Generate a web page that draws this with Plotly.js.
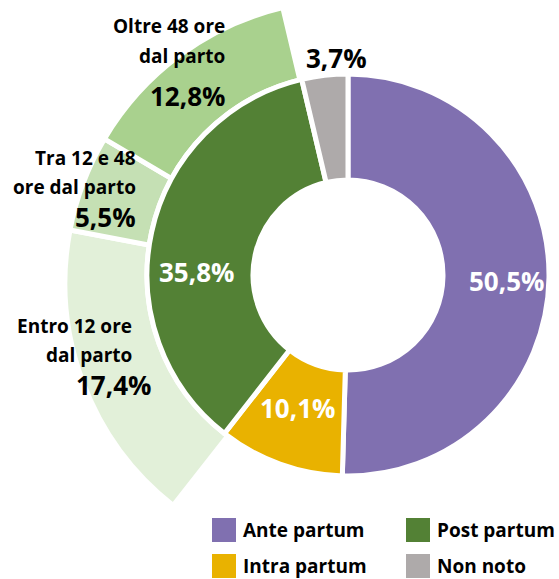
<!DOCTYPE html>
<html>
<head>
<meta charset="utf-8">
<script src="https://cdn.plot.ly/plotly-3.0.1.min.js"></script>
<style>
  html, body { margin: 0; padding: 0; background: #ffffff; overflow: hidden; width: 559px; height: 579px; }
  #chart { position: absolute; left: 0; top: -30px; width: 700px; height: 640px; }
</style>
</head>
<body>
<div id="chart"></div>
<script>
// ---- data ----
var innerCategories = ["Ante partum", "Intra partum", "Post partum", "Non noto"];
var innerValues = [50.5, 10.1, 35.8, 3.7];
var innerColors = ["#8070B0", "#E9B200", "#538135", "#AEAAAA"];

var postCategories = ["Entro 12 ore<br>dal parto", "Tra 12 e 48<br>ore dal parto", "Oltre 48 ore<br>dal parto"];
var postValues = [17.4, 5.5, 12.8];
var postColors = ["#E2F0D9", "#C5E0B4", "#A9D18E"];

var legendOrder = ["Ante partum", "Post partum", "Intra partum", "Non noto"];

// ---- geometry (layout) ----
var W = 700, H = 640, OFFY = 30;
var CX = 348, CY = 275;          // inner ring centre (window pixels)
var OCX = 348, OCY = 283;        // outer ring centre
var R_IN = 201, R_OUT = 283, R_HOLE = 95, GAP = 2.5;
function px(X) { return X / W; }
function py(Y) { return (H - (Y + OFFY)) / H; }
function dom(cx, cy, r) {
  return { x: [px(cx - r), px(cx + r)], y: [py(cy + r), py(cy - r)] };
}
var FONT = "'Open Sans', 'Noto Sans', sans-serif";
function fmt(v) { return v.toFixed(1).replace(".", ",") + "%"; }

// outer ring: only the post-partum sub-categories are visible
var outerLabels = [innerCategories[0], innerCategories[1]].concat(postCategories).concat([innerCategories[3]]);
var outerValues = [innerValues[0], innerValues[1]].concat(postValues).concat([innerValues[3]]);
var clear = "rgba(0,0,0,0)";
var outerColors = [clear, clear].concat(postColors).concat([clear]);
var outerLineColors = [clear, clear, "#ffffff", "#ffffff", "#ffffff", clear];

var outer = {
  type: "pie",
  labels: outerLabels,
  values: outerValues,
  sort: false,
  direction: "clockwise",
  rotation: 0,
  hole: 170 / R_OUT,
  domain: dom(OCX, OCY, R_OUT),
  marker: { colors: outerColors, line: { color: outerLineColors, width: 5 } },
  textinfo: "none",
  showlegend: false,
  hoverinfo: "none"
};

// white halo separating the two rings
var halo = {
  type: "pie",
  labels: innerCategories,
  values: innerValues,
  sort: false,
  direction: "clockwise",
  rotation: 0,
  domain: dom(CX, CY, R_IN + GAP),
  marker: { colors: innerCategories.map(function () { return "#ffffff"; }), line: { width: 0 } },
  textinfo: "none",
  showlegend: false,
  hoverinfo: "none"
};

var inner = {
  type: "pie",
  labels: innerCategories,
  values: innerValues,
  sort: false,
  direction: "clockwise",
  rotation: 0,
  hole: R_HOLE / R_IN,
  domain: dom(CX, CY, R_IN),
  marker: { colors: innerColors, line: { color: "#ffffff", width: 5 } },
  textinfo: "none",
  showlegend: false,
  hoverinfo: "none"
};

var annotations = [];

// value labels of the inner ring
var innerLabelPos = [[506, 281], [297, 408], [196, 272], [336, 58]];
var innerLabelColors = ["#ffffff", "#ffffff", "#ffffff", "#000000"];
innerValues.forEach(function (v, i) {
  annotations.push({
    xref: "paper", yref: "paper", x: px(innerLabelPos[i][0]), y: py(innerLabelPos[i][1]),
    xanchor: "center", yanchor: "middle", showarrow: false, text: fmt(v),
    font: { family: FONT, size: 26, weight: 700, color: innerLabelColors[i] }
  });
});

// label annotations for the outer ring
var labelPos = [
  { right: 134, lines: [326, 355], vRight: 153, vY: 385 },
  { right: 138, lines: [158, 187], vRight: 138, vY: 217 },
  { right: 227, lines: [26, 56], vRight: 227, vY: 96 }
];
postCategories.forEach(function (c, i) {
  var p = labelPos[i];
  c.split("<br>").forEach(function (line, j) {
    annotations.push({
      xref: "paper", yref: "paper", x: px(p.right), y: py(p.lines[j]),
      xanchor: "right", yanchor: "middle", showarrow: false, text: line,
      font: { family: FONT, size: 19, weight: 700, color: "#000000" }
    });
  });
  annotations.push({
    xref: "paper", yref: "paper", x: px(p.vRight), y: py(p.vY),
    xanchor: "right", yanchor: "middle", showarrow: false, text: fmt(postValues[i]),
    font: { family: FONT, size: 26, weight: 700, color: "#000000" }
  });
});

// legend (2 x 2) built from the categories and colours
var shapes = [];
var legCols = [212, 406], legRows = [518, 554], BOX = 24;
legendOrder.forEach(function (name, k) {
  var idx = innerCategories.indexOf(name);
  var x0 = legCols[k % 2], y0 = legRows[Math.floor(k / 2)];
  shapes.push({
    type: "rect", xref: "paper", yref: "paper",
    x0: px(x0), x1: px(x0 + BOX), y0: py(y0 + BOX), y1: py(y0),
    fillcolor: innerColors[idx], line: { width: 0 }
  });
  annotations.push({
    xref: "paper", yref: "paper", x: px(x0 + 29), y: py(y0 + BOX / 2),
    xanchor: "left", yanchor: "middle", showarrow: false, text: name,
    font: { family: FONT, size: 19, weight: 700, color: "#000000" }
  });
});

var layout = {
  width: W, height: H,
  margin: { l: 0, r: 0, t: 0, b: 0 },
  paper_bgcolor: "#ffffff",
  separators: ",.",
  showlegend: false,
  annotations: annotations,
  shapes: shapes
};

Plotly.newPlot("chart", [outer, halo, inner], layout, { displayModeBar: false, staticPlot: true });
</script>
</body>
</html>
